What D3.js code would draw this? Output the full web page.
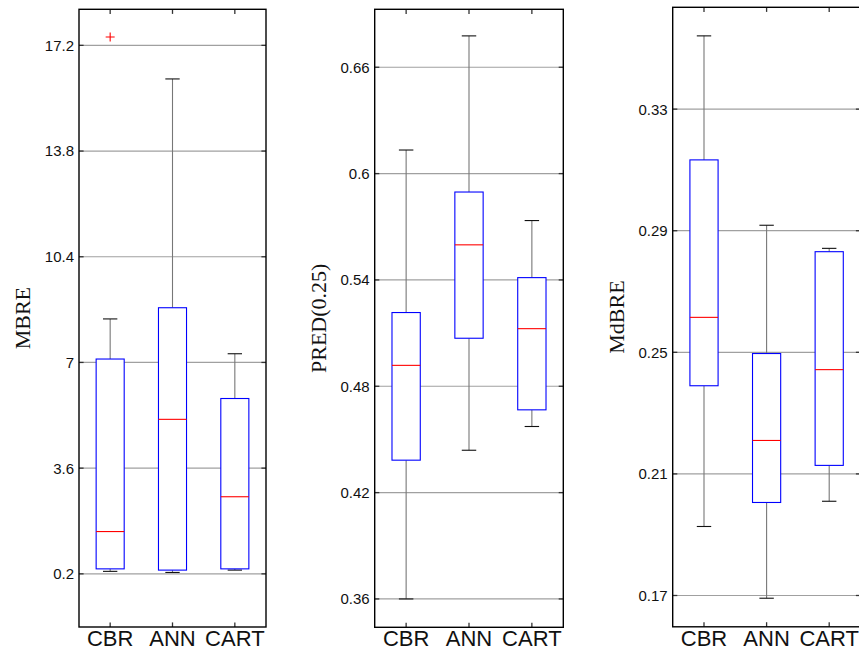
<!DOCTYPE html>
<html>
<head>
<meta charset="utf-8">
<script src="https://cdn.jsdelivr.net/npm/d3@7/dist/d3.min.js"></script>
<style>
  html, body { margin: 0; padding: 0; background: #fff; }
  svg { display: block; }
</style>
</head>
<body>
<script>
// Methods compared in every panel
const categories = ["CBR", "ANN", "CART"];

// Box statistics per method: [lower whisker, Q1, median, Q3, upper whisker]
const mbreStats = [
  [0.28, 0.36, 1.56, 7.11, 8.40],
  [0.245, 0.32, 5.17, 8.76, 16.12],
  [0.32, 0.36, 2.68, 5.84, 7.28]
];
const mbreOutliers = [[17.47], [], []];
const mbreTicks = [0.2, 3.6, 7, 10.4, 13.8, 17.2];
const mbreTickLabels = ["0.2", "3.6", "7", "10.4", "13.8", "17.2"];

const predStats = [
  [0.36, 0.4383, 0.4918, 0.5216, 0.6133],
  [0.4439, 0.5071, 0.5598, 0.5896, 0.6777],
  [0.4573, 0.4667, 0.5125, 0.5413, 0.5735]
];
const predOutliers = [[], [], []];
const predTicks = [0.36, 0.42, 0.48, 0.54, 0.6, 0.66];
const predTickLabels = ["0.36", "0.42", "0.48", "0.54", "0.6", "0.66"];

const mdbreStats = [
  [0.1927, 0.2390, 0.2615, 0.3133, 0.3541],
  [0.1691, 0.2006, 0.2210, 0.2496, 0.2918],
  [0.2010, 0.2128, 0.2443, 0.2831, 0.2842]
];
const mdbreOutliers = [[], [], []];
const mdbreTicks = [0.17, 0.21, 0.25, 0.29, 0.33];
const mdbreTickLabels = ["0.17", "0.21", "0.25", "0.29", "0.33"];

const panels = [
  { title: "MBRE", stats: mbreStats, outliers: mbreOutliers, ticks: mbreTicks, labels: mbreTickLabels,
    domain: [-1.51, 18.36], x0: 79, x1: 266, y0: 9.3, y1: 627 },
  { title: "PRED(0.25)", stats: predStats, outliers: predOutliers, ticks: predTicks, labels: predTickLabels,
    domain: [0.344, 0.6927], x0: 374.7, x1: 563.3, y0: 9.3, y1: 627.3 },
  { title: "MdBRE", stats: mdbreStats, outliers: mdbreOutliers, ticks: mdbreTicks, labels: mdbreTickLabels,
    domain: [0.1597, 0.3635], x0: 672.7, x1: 860.5, y0: 7.3, y1: 626.8 }
];

const W = 859, H = 653;
const svg = d3.select("body").append("svg").attr("width", W).attr("height", H);

const tickLen = 4.6;
const boxW = 0.45, capW = 0.23;
const sans = "Liberation Sans, Arial, Helvetica, sans-serif";

panels.forEach(p => {
  const x = d3.scaleLinear().domain([0.5, 3.5]).range([p.x0, p.x1]);
  const y = d3.scaleLinear().domain(p.domain).range([p.y1, p.y0]);
  const g = svg.append("g");

  // grid lines
  g.selectAll("line.grid").data(p.ticks).join("line")
    .attr("class", "grid")
    .attr("x1", p.x0).attr("x2", p.x1)
    .attr("y1", d => y(d)).attr("y2", d => y(d))
    .attr("stroke", "#a0a0a0").attr("stroke-width", 1.2);

  // y ticks (inward on both sides)
  p.ticks.forEach(t => {
    g.append("line").attr("x1", p.x0).attr("x2", p.x0 + tickLen)
      .attr("y1", y(t)).attr("y2", y(t)).attr("stroke", "#333").attr("stroke-width", 1.3);
    g.append("line").attr("x1", p.x1).attr("x2", p.x1 - tickLen)
      .attr("y1", y(t)).attr("y2", y(t)).attr("stroke", "#333").attr("stroke-width", 1.3);
  });
  g.selectAll("text.ytick").data(p.ticks).join("text")
    .attr("class", "ytick")
    .attr("x", p.x0 - 5).attr("y", d => y(d)).attr("dy", "0.36em")
    .attr("text-anchor", "end")
    .attr("font-family", sans).attr("font-size", 15)
    .attr("fill", "#111")
    .text((d, i) => p.labels[i]);

  // x ticks (inward, top and bottom)
  categories.forEach((c, i) => {
    const cx = x(i + 1);
    g.append("line").attr("x1", cx).attr("x2", cx).attr("y1", p.y0).attr("y2", p.y0 + tickLen)
      .attr("stroke", "#333").attr("stroke-width", 1.3);
    g.append("line").attr("x1", cx).attr("x2", cx).attr("y1", p.y1).attr("y2", p.y1 - tickLen)
      .attr("stroke", "#333").attr("stroke-width", 1.3);
    g.append("text").attr("x", cx).attr("y", 645.5)
      .attr("text-anchor", "middle")
      .attr("font-family", sans).attr("font-size", 22)
      .attr("fill", "#111").text(c);
  });

  // boxes
  p.stats.forEach((s, i) => {
    const cx = x(i + 1);
    const [lo, q1, med, q3, hi] = s;
    const half = (x(1 + boxW / 2) - x(1));
    const capHalf = (x(1 + capW / 2) - x(1));
    // whiskers
    g.append("line").attr("x1", cx).attr("x2", cx).attr("y1", y(q3)).attr("y2", y(hi))
      .attr("stroke", "#777").attr("stroke-width", 1.1);
    g.append("line").attr("x1", cx).attr("x2", cx).attr("y1", y(q1)).attr("y2", y(lo))
      .attr("stroke", "#777").attr("stroke-width", 1.1);
    // caps
    [lo, hi].forEach(v => {
      g.append("line").attr("x1", cx - capHalf).attr("x2", cx + capHalf)
        .attr("y1", y(v)).attr("y2", y(v)).attr("stroke", "#111").attr("stroke-width", 1.1);
    });
    // box
    g.append("rect").attr("x", cx - half).attr("y", y(q3))
      .attr("width", 2 * half).attr("height", y(q1) - y(q3))
      .attr("fill", "#fff").attr("stroke", "#0000ff").attr("stroke-width", 1.1);
    // median
    g.append("line").attr("x1", cx - half).attr("x2", cx + half)
      .attr("y1", y(med)).attr("y2", y(med)).attr("stroke", "#ff0000").attr("stroke-width", 1.1);
    // outliers
    p.outliers[i].forEach(v => {
      const oy = y(v);
      g.append("path").attr("d", `M${cx - 4.5},${oy}H${cx + 4.5}M${cx},${oy - 4.5}V${oy + 4.5}`)
        .attr("stroke", "#ff0000").attr("stroke-width", 1.1).attr("fill", "none");
    });
  });

  // frame
  g.append("rect").attr("x", p.x0).attr("y", p.y0)
    .attr("width", p.x1 - p.x0).attr("height", p.y1 - p.y0)
    .attr("fill", "none").attr("stroke", "#000").attr("stroke-width", 1.4);

  // y-axis title
  const ty = (p.y0 + p.y1) / 2;
  g.append("text")
    .attr("transform", `translate(${p.x0 - 49},${ty}) rotate(-90)`)
    .attr("text-anchor", "middle")
    .attr("font-family", "Liberation Serif, Times New Roman, serif").attr("font-size", 22)
    .attr("fill", "#111").text(p.title);
});
</script>
</body>
</html>
